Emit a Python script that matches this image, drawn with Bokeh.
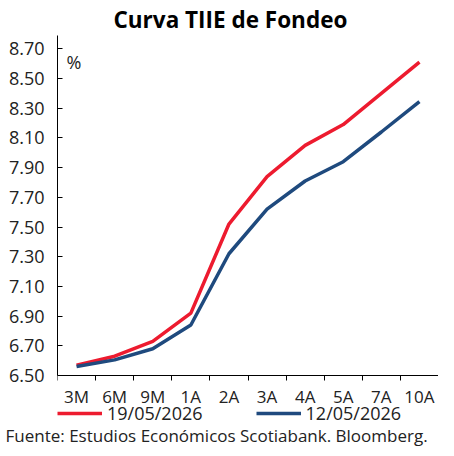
from bokeh.plotting import figure
from bokeh.models import (Range1d, FixedTicker, Legend, LegendItem, Label, Title,
                          NumeralTickFormatter)
from bokeh.embed import file_html
from bokeh.resources import INLINE

categories = ["3M", "6M", "9M", "1A", "2A", "3A", "4A", "5A", "7A", "10A"]
serie_19may = [6.57, 6.63, 6.73, 6.92, 7.52, 7.84, 8.05, 8.19, 8.40, 8.61]
serie_12may = [6.56, 6.605, 6.68, 6.84, 7.32, 7.62, 7.81, 7.94, 8.14, 8.345]
y_ticks = [6.50, 6.70, 6.90, 7.10, 7.30, 7.50, 7.70, 7.90, 8.10, 8.30, 8.50, 8.70]
series_labels = ["19/05/2026", "12/05/2026"]
source_text = "Fuente: Estudios Económicos Scotiabank. Bloomberg."

FONT = "Open Sans"
RED = "#ED1B2F"
BLUE = "#1F4A7E"
TXT = "#222222"
Y_MIN, Y_MAX = 6.50, 8.79

xs = list(range(len(categories)))

p = figure(frame_width=381, frame_height=386, output_backend="svg", toolbar_location=None,
           x_range=Range1d(-0.5, len(categories) - 0.5), y_range=Range1d(6.19, Y_MAX),
           min_border_left=57, min_border_right=0, min_border_top=30, min_border_bottom=0)

p.title.text = "Curva TIIE de Fondeo"
p.title.align = "left"
p.title.offset = 56
p.title.text_font = FONT
p.title.text_font_size = "22.5px"
p.title.text_font_style = "bold"
p.title.text_color = "black"
p.title.standoff = 2

p.grid.visible = False
p.outline_line_color = None
p.background_fill_color = "white"
p.border_fill_color = "white"

r1 = p.line(xs, serie_19may, line_color=RED, line_width=3.5)
r2 = p.line(xs, serie_12may, line_color=BLUE, line_width=3.5)

# y axis
ya = p.yaxis[0]
ya.bounds = (Y_MIN, Y_MAX)
ya.ticker = FixedTicker(ticks=y_ticks)
ya.formatter = NumeralTickFormatter(format="0.00")
ya.major_tick_in = 5
ya.major_tick_out = 0
ya.minor_tick_line_color = None
ya.major_label_standoff = 13
ya.major_label_text_font = FONT
ya.major_label_text_font_size = "18px"
ya.major_label_text_color = TXT
ya.axis_line_color = "black"
ya.major_tick_line_color = "black"

# x axis at 6.50: labels at category centers, ticks at boundaries
xa = p.xaxis[0]
xa.fixed_location = Y_MIN
xa.ticker = FixedTicker(ticks=xs, minor_ticks=[i - 0.5 for i in range(len(categories) + 1)])
xa.major_label_overrides = {i: c for i, c in zip(xs, categories)}
xa.major_tick_in = 0
xa.major_tick_out = 0
xa.minor_tick_in = 0
xa.minor_tick_out = 5
xa.minor_tick_line_color = "black"
xa.major_label_standoff = 5
xa.major_label_text_font = FONT
xa.major_label_text_font_size = "17px"
xa.major_label_text_color = TXT
xa.axis_line_color = "black"

p.add_layout(Label(x=-0.5, y=8.70, x_offset=9, y_offset=-1, text="%", text_baseline="top",
                   text_font=FONT, text_font_size="18px", text_color=TXT))

legend = Legend(items=[LegendItem(label=series_labels[0], renderers=[r1]),
                       LegendItem(label=series_labels[1], renderers=[r2])],
                orientation="horizontal", location=(0, -4),
                glyph_width=45, glyph_height=18, label_height=18, label_standoff=5, spacing=53,
                padding=0, margin=0, border_line_alpha=0, background_fill_alpha=0,
                label_text_font=FONT, label_text_font_size="18px", label_text_color=TXT)
p.add_layout(legend, "center")

p.add_layout(Title(text=source_text, align="left", offset=-52, standoff=0,
                   text_font=FONT, text_font_size="17px", text_font_style="normal",
                   text_color=TXT), "below")

open("out.html", "w").write(file_html(p, INLINE))
